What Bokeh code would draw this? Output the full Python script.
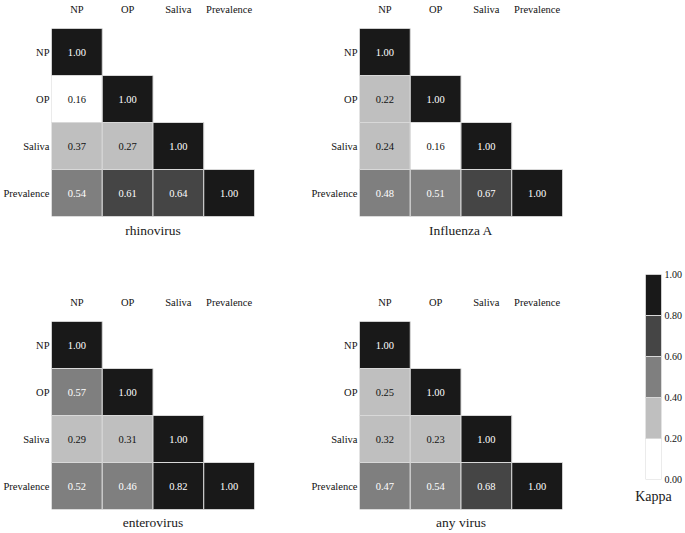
from bokeh.plotting import figure
from bokeh.models import (ColumnDataSource, FactorRange, LinearColorMapper, FixedTicker,
                          PrintfTickFormatter, Range1d, Spacer, Title, LinearAxis)
from bokeh.layouts import row, column
from bokeh.core.properties import value
from bokeh.embed import file_html
from bokeh.resources import INLINE

# ---------------- data ----------------
samples = ["NP", "OP", "Saliva", "Prevalence"]

# lower-triangle kappa values, row by row (row i has values for columns 0..i)
rhinovirus = [[1.00], [0.16, 1.00], [0.37, 0.27, 1.00], [0.54, 0.61, 0.64, 1.00]]
influenza_a = [[1.00], [0.22, 1.00], [0.24, 0.16, 1.00], [0.48, 0.51, 0.67, 1.00]]
enterovirus = [[1.00], [0.57, 1.00], [0.29, 0.31, 1.00], [0.52, 0.46, 0.82, 1.00]]
any_virus = [[1.00], [0.25, 1.00], [0.32, 0.23, 1.00], [0.47, 0.54, 0.68, 1.00]]

panel_titles = ["rhinovirus", "Influenza A", "enterovirus", "any virus"]

kappa_breaks = [0.0, 0.2, 0.4, 0.6, 0.8, 1.0]
kappa_palette = ["#ffffff", "#bfbfbf", "#7f7f7f", "#454545", "#191919"]
kappa_ticks = [0.0, 0.2, 0.4, 0.6, 0.8, 1.0]

# ---------------- style ----------------
SERIF = "Liberation Serif"
mapper = LinearColorMapper(palette=kappa_palette, low=kappa_breaks[0], high=kappa_breaks[-1])


def style_axis(ax, size):
    ax.axis_line_color = None
    ax.major_tick_line_color = None
    ax.minor_tick_line_color = None
    ax.major_tick_out = 0
    ax.major_tick_in = 0
    ax.minor_tick_out = 0
    ax.minor_tick_in = 0
    ax.major_label_text_font = SERIF
    ax.major_label_text_font_size = size
    ax.major_label_text_color = "#111111"


def panel(title, matrix, top, left):
    xs, ys, vs, labels, tcs = [], [], [], [], []
    for i, r in enumerate(matrix):
        for j, v in enumerate(r):
            xs.append(samples[j])
            ys.append(samples[i])
            vs.append(v)
            labels.append(f"{v:.2f}")
            tcs.append("#ffffff" if v >= 0.4 else "#111111")
    src = ColumnDataSource(dict(x=xs, y=ys, v=vs, label=labels, tc=tcs))

    p = figure(x_range=FactorRange(*samples), y_range=FactorRange(*reversed(samples)),
               frame_width=203, frame_height=188,
               x_axis_location="above", tools="", toolbar_location=None,
               output_backend="svg",
               min_border_left=48, min_border_right=54 if left else 43,
               min_border_top=26, min_border_bottom=77 if top else 20)
    p.add_layout(Title(text=title, align="center", text_font=SERIF, text_font_size="13.5px",
                       text_font_style="normal", text_color="#1a1a1a",
                       standoff=8 if top else 6), "below")
    p.rect(x="x", y="y", width=1, height=1, source=src,
           fill_color={"field": "v", "transform": mapper},
           line_color="#d8d8d8", line_width=1)
    p.text(x="x", y="y", text="label", source=src, text_align="center",
           text_baseline="middle", text_color="tc", text_font=value(SERIF),
           text_font_size="10.5px")
    p.grid.visible = False
    p.outline_line_color = None
    for ax in p.axis:
        style_axis(ax, "10.5px")
    p.xaxis.major_label_standoff = 14
    p.yaxis.major_label_standoff = 2
    return p


f1 = panel(panel_titles[0], rhinovirus, True, True)
f2 = panel(panel_titles[1], influenza_a, True, False)
f3 = panel(panel_titles[2], enterovirus, False, True)
f4 = panel(panel_titles[3], any_virus, False, False)

# ---------------- colour bar ----------------
cb_src = ColumnDataSource(dict(bottom=kappa_breaks[:-1], top=kappa_breaks[1:],
                               color=kappa_palette))
cb = figure(x_range=Range1d(0, 1), y_range=Range1d(kappa_breaks[0], kappa_breaks[-1]),
            frame_width=16, frame_height=205, tools="", toolbar_location=None,
            output_backend="svg", x_axis_type=None, y_axis_type=None,
            min_border_left=40, min_border_right=21, min_border_top=8, min_border_bottom=36)
cb.quad(left=0, right=1, bottom="bottom", top="top", fill_color="color",
        line_color="#d8d8d8", line_width=1, source=cb_src)
yax = LinearAxis(ticker=FixedTicker(ticks=kappa_ticks),
                 formatter=PrintfTickFormatter(format="%.2f"))
style_axis(yax, "10px")
yax.major_label_standoff = 3
cb.add_layout(yax, "right")
cb.add_layout(Title(text="Kappa", align="center", text_font=SERIF, text_font_size="14px",
                    text_font_style="normal", text_color="#1a1a1a", standoff=15), "below")
cb.grid.visible = False
cb.outline_line_color = None

layout = row(column(f1, f3, spacing=0),
             column(f2, f4, spacing=0),
             column(Spacer(width=77, height=266), cb, spacing=0),
             spacing=0)

open("out.html", "w").write(file_html(layout, INLINE))
